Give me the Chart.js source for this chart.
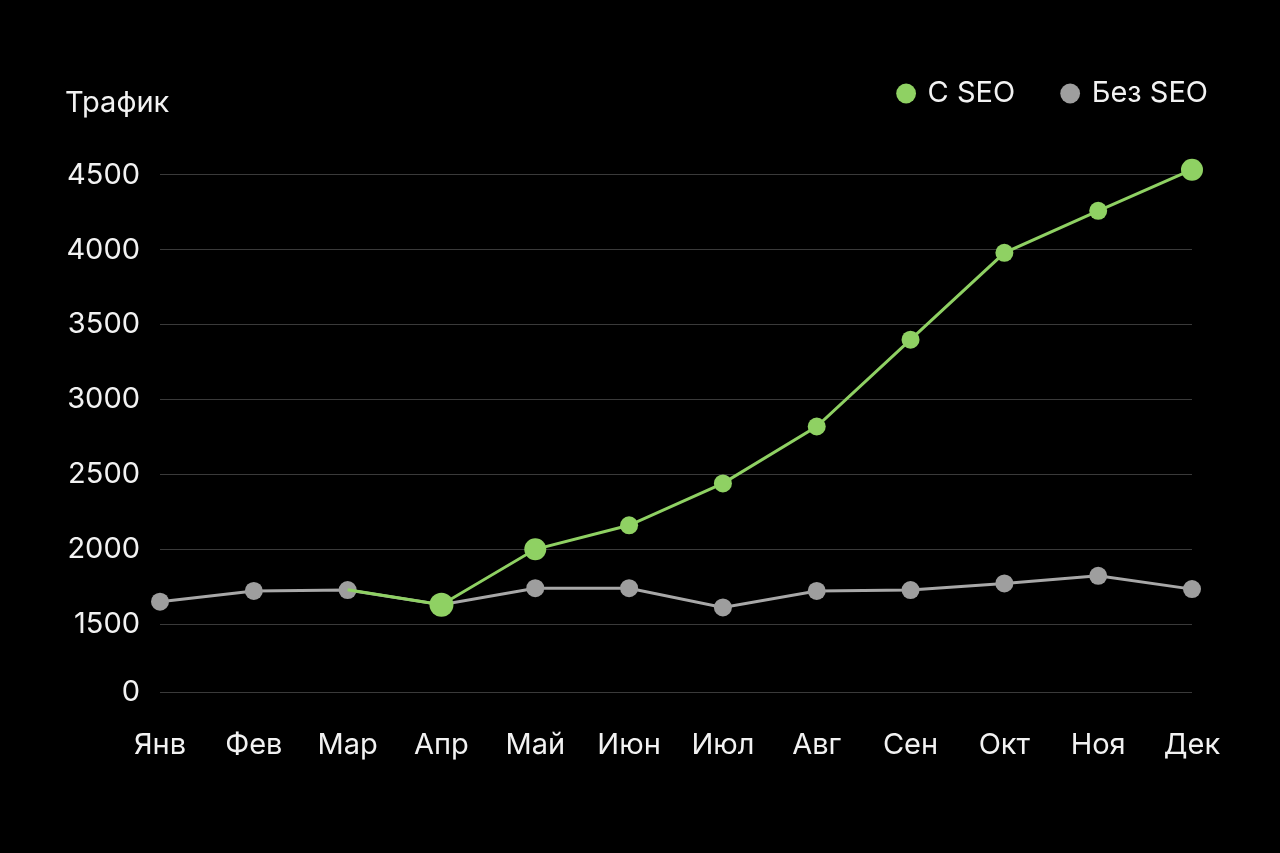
<!DOCTYPE html>
<html lang="ru">
<head>
<meta charset="utf-8">
<script src="https://cdn.jsdelivr.net/npm/chart.js@4.4.1/dist/chart.umd.min.js"></script>
<style>
  html, body { margin: 0; padding: 0; background: #000; }
  .wrap { position: relative; width: 1280px; height: 853px; }
</style>
</head>
<body>
<div class="wrap"><canvas id="traffic"></canvas></div>
<script>
const months = ['Янв', 'Фев', 'Мар', 'Апр', 'Май', 'Июн', 'Июл', 'Авг', 'Сен', 'Окт', 'Ноя', 'Дек'];
const withSeo = [null, null, 1730, 1630, 2000, 2160, 2440, 2820, 3400, 3980, 4260, 4535];
const withoutSeo = [1650, 1722, 1728, 1630, 1740, 1740, 1612, 1722, 1728, 1772, 1823, 1734];
const yTicks = [0, 1500, 2000, 2500, 3000, 3500, 4000, 4500];

// ось разорвана: "0" стоит сразу под 1500
const ZERO_AT = 1047;

const FONT = 'Inter, "Noto Sans", sans-serif';
const GREEN = '#8fd163';
const GREY = '#9e9e9e';

const axisTitle = {
  id: 'axisTitle',
  afterDraw(chart) {
    const { ctx, chartArea } = chart;
    ctx.save();
    ctx.font = '29px ' + FONT;
    ctx.fillStyle = '#f2f2f2';
    ctx.textAlign = 'left';
    ctx.textBaseline = 'middle';
    ctx.fillText('Трафик', chartArea.left - 95, 103);
    ctx.restore();
  }
};

new Chart(document.getElementById('traffic'), {
  type: 'line',
  data: {
    labels: months,
    datasets: [{
      label: 'С SEO',
      data: withSeo,
      borderColor: GREEN,
      backgroundColor: GREEN,
      pointBackgroundColor: GREEN,
      pointBorderWidth: 0,
      pointRadius: [0, 0, 0, 12, 11, 9, 9, 9, 9, 9, 9, 11],
      borderWidth: 3,
      clip: false
    }, {
      label: 'Без SEO',
      data: withoutSeo,
      borderColor: '#a8a8a8',
      backgroundColor: GREY,
      pointBackgroundColor: GREY,
      pointBorderWidth: 0,
      pointRadius: 9,
      borderWidth: 3,
      clip: false
    }]
  },
  options: {
    responsive: true,
    maintainAspectRatio: false,
    animation: false,
    layout: { padding: { top: 31, right: 24, bottom: 0, left: 0 } },
    plugins: {
      legend: {
        position: 'top',
        align: 'end',
        labels: {
          usePointStyle: true,
          pointStyle: 'circle',
          boxHeight: 14,
          boxWidth: 14,
          padding: 48,
          color: '#f2f2f2',
          font: { family: FONT, size: 29 }
        }
      },
      tooltip: { enabled: false }
    },
    scales: {
      x: {
        offset: false,
        grid: { display: false, drawTicks: false },
        border: { display: false },
        ticks: { color: '#f2f2f2', padding: 36, font: { family: FONT, size: 29 } },
        afterFit: s => { s.height = 161; s.paddingRight = 88; }
      },
      y: {
        min: ZERO_AT,
        max: 4880,
        grid: { color: '#3a3a3a', lineWidth: 1, drawTicks: false },
        border: { display: false },
        ticks: {
          color: '#f2f2f2',
          padding: 20,
          font: { family: FONT, size: 29 },
          callback: v => (v === ZERO_AT ? '0' : String(v))
        },
        afterBuildTicks: s => {
          s.ticks = yTicks.map(v => ({ value: v === 0 ? ZERO_AT : v }));
        },
        afterFit: s => { s.width = 160; }
      }
    }
  },
  plugins: [axisTitle]
});
</script>
</body>
</html>
